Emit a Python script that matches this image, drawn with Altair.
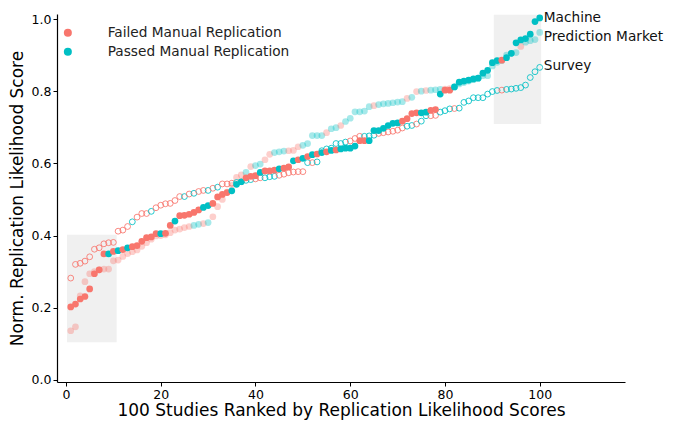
import altair as alt
import pandas as pd

# ---------------- data ----------------
ranks = list(range(1, 101))

machine = [
    0.202, 0.210, 0.224, 0.231, 0.252, 0.294, 0.305, 0.349, 0.349, 0.356,
    0.358, 0.361, 0.366, 0.369, 0.372, 0.384, 0.394, 0.396, 0.405, 0.405,
    0.406, 0.428, 0.440, 0.455, 0.456, 0.459, 0.464, 0.471, 0.478, 0.483,
    0.489, 0.507, 0.514, 0.519, 0.524, 0.542, 0.549, 0.560, 0.564, 0.566,
    0.575, 0.579, 0.579, 0.581, 0.585, 0.587, 0.590, 0.607, 0.610, 0.614,
    0.619, 0.624, 0.626, 0.630, 0.632, 0.636, 0.637, 0.640, 0.642, 0.642,
    0.648, 0.663, 0.663, 0.663, 0.691, 0.691, 0.697, 0.705, 0.711, 0.712,
    0.717, 0.724, 0.738, 0.740, 0.740, 0.742, 0.747, 0.749, 0.792, 0.803,
    0.803, 0.812, 0.825, 0.828, 0.831, 0.834, 0.836, 0.850, 0.858, 0.879,
    0.885, 0.886, 0.893, 0.905, 0.934, 0.942, 0.946, 0.958, 0.993, 1.003,
]
machine_status = ("FFFFFFFFPF PFPFFFFFFP FFPFFFFFPP FFFFPPPFFF PFFFPFFPFP "
                  "FPFPFPFPPP PFFPPPPPPP FFFFPPFFPF FPPPPPPPPP PFPPPPPPPP")

market = [
    0.136, 0.147, 0.233, 0.272, 0.294, 0.300, 0.305, 0.307, 0.307, 0.330,
    0.332, 0.342, 0.350, 0.355, 0.360, 0.370, 0.380, 0.390, 0.399, 0.400,
    0.402, 0.408, 0.415, 0.418, 0.422, 0.425, 0.428, 0.431, 0.433, 0.436,
    0.452, 0.480, 0.500, 0.520, 0.540, 0.561, 0.568, 0.575, 0.591, 0.594,
    0.598, 0.610, 0.625, 0.630, 0.632, 0.634, 0.635, 0.636, 0.646, 0.650,
    0.655, 0.677, 0.677, 0.677, 0.685, 0.696, 0.699, 0.705, 0.716, 0.725,
    0.743, 0.743, 0.745, 0.757, 0.760, 0.763, 0.765, 0.766, 0.768, 0.770,
    0.771, 0.780, 0.783, 0.799, 0.800, 0.802, 0.803, 0.804, 0.805, 0.806,
    0.807, 0.812, 0.820, 0.824, 0.828, 0.832, 0.836, 0.843, 0.843, 0.870,
    0.880, 0.885, 0.900, 0.905, 0.907, 0.924, 0.936, 0.940, 0.943, 0.963,
]
market_status = ("FFFFFFFFFF FFFFFFFFFF FFFFFFPPFP FFFFFFFPFP PFFPPPFFFP "
                 "PPPPFPPFPP PPPPFPPPPP PFPFPFPPPF FPPPPPPPPP PPPPPFPPPP")

survey = [
    0.282, 0.320, 0.323, 0.329, 0.341, 0.362, 0.366, 0.377, 0.380, 0.381,
    0.412, 0.415, 0.425, 0.438, 0.451, 0.461, 0.461, 0.467, 0.477, 0.484,
    0.488, 0.489, 0.497, 0.508, 0.508, 0.515, 0.517, 0.522, 0.525, 0.525,
    0.531, 0.534, 0.543, 0.543, 0.545, 0.547, 0.549, 0.553, 0.555, 0.557,
    0.560, 0.560, 0.563, 0.564, 0.567, 0.570, 0.574, 0.576, 0.577, 0.577,
    0.602, 0.602, 0.604, 0.635, 0.640, 0.642, 0.655, 0.655, 0.659, 0.662,
    0.669, 0.675, 0.675, 0.676, 0.678, 0.683, 0.685, 0.687, 0.689, 0.692,
    0.698, 0.703, 0.705, 0.709, 0.717, 0.732, 0.732, 0.733, 0.742, 0.746,
    0.751, 0.752, 0.753, 0.769, 0.773, 0.782, 0.782, 0.782, 0.792, 0.799,
    0.802, 0.803, 0.805, 0.806, 0.808, 0.810, 0.817, 0.838, 0.854, 0.866,
]
survey_status = ("FFFFFFFFFF FFFPFFFPFF FFFFPFPFFP FPFFFPFPPF FPPPFFFFFF "
                 "PFPPPPPPPF FFPPPFFFFF FPPFPPFFPP PFPPPPPPPP PFPPPPPPPP")

status_names = {"F": "Failed Manual Replication", "P": "Passed Manual Replication"}
status_colors = {"F": "#F8766D", "P": "#00BFC4"}
market_colors = {"F": "rgba(248,118,109,0.35)", "P": "rgba(0,191,196,0.35)"}
survey_colors = {"F": "rgba(248,118,109,0.85)", "P": "rgba(0,191,196,0.85)"}

series_names = ["Machine", "Prediction Market", "Survey"]
label_y = [1.004, 0.950, 0.870]

# highlighted regions (rank range, score range)
box_x0 = [0.2, 90.3]
box_x1 = [10.7, 100.3]
box_y0 = [0.104, 0.709]
box_y1 = [0.402, 1.012]


def frame(vals, status, palette):
    codes = status.replace(" ", "")
    assert len(vals) == 100 and len(codes) == 100
    return pd.DataFrame({
        "rank": ranks,
        "score": vals,
        "status": [status_names[c] for c in codes],
        "col": [palette[c] for c in codes],
    })


df_machine = frame(machine, machine_status, status_colors)
df_market = frame(market, market_status, market_colors)
df_survey = frame(survey, survey_status, survey_colors)
df_boxes = pd.DataFrame({"x0": box_x0, "x1": box_x1, "y0": box_y0, "y1": box_y1})
df_labels = pd.DataFrame({"name": series_names, "rank": [100] * 3, "score": label_y})

# ---------------- chart ----------------
FONT = "DejaVu Sans"
xscale = alt.Scale(domain=[-1.9, 118], nice=False, zero=False)
yscale = alt.Scale(domain=[-0.006, 1.014], nice=False, zero=False)
cscale = alt.Scale(domain=list(status_names.values()),
                   range=[status_colors["F"], status_colors["P"]])

xenc = alt.X("rank:Q", scale=xscale,
             axis=alt.Axis(values=[0, 20, 40, 60, 80, 100],
                           title="100 Studies Ranked by Replication Likelihood Scores"))
yenc = alt.Y("score:Q", scale=yscale,
             axis=alt.Axis(values=[0, 0.2, 0.4, 0.6, 0.8, 1.0], format=".1f",
                           title="Norm. Replication Likelihood Score"))

boxes = alt.Chart(df_boxes).mark_rect(color="#f0f0f0").encode(
    x=alt.X("x0:Q", scale=xscale), x2="x1:Q",
    y=alt.Y("y0:Q", scale=yscale), y2="y1:Q",
)

market_layer = alt.Chart(df_market).mark_circle(size=45, opacity=1).encode(
    x=xenc, y=yenc,
    color=alt.Color("col:N", scale=None),
)

survey_layer = alt.Chart(df_survey).mark_point(
    shape="circle", filled=False, size=34, strokeWidth=1, opacity=1
).encode(
    x=xenc, y=yenc,
    color=alt.Color("col:N", scale=None),
)

machine_layer = alt.Chart(df_machine).mark_circle(size=45, opacity=1).encode(
    x=xenc, y=yenc,
    color=alt.Color("status:N", scale=cscale,
                    legend=alt.Legend(title=None, orient="none", legendX=4, legendY=12,
                                      symbolType="circle", symbolSize=64,
                                      symbolOpacity=1,
                                      labelFontSize=13.7, labelFont=FONT,
                                      labelColor="#222222", labelOffset=33,
                                      labelLimit=400,
                                      rowPadding=4, padding=0, symbolStrokeWidth=0)),
)

labels = alt.Chart(df_labels).mark_text(
    align="left", baseline="middle", dx=4, fontSize=13.7, font=FONT, color="#111111"
).encode(
    x=alt.X("rank:Q", scale=xscale), y=alt.Y("score:Q", scale=yscale), text="name:N"
)

chart = alt.layer(boxes, market_layer, survey_layer, machine_layer, labels).properties(
    width=568, height=368,
    autosize=alt.AutoSizeParams(type="none"),
    padding={"left": 49, "top": 6, "right": 42, "bottom": 39},
).configure_view(stroke=None).configure_axis(
    grid=False, domainColor="black", tickColor="black", labelColor="black",
    titleColor="black", labelFont=FONT, titleFont=FONT, labelFontSize=12.5,
    titleFontSize=17, titleFontWeight="normal", tickSize=4, labelPadding=2,
    domainWidth=1.2,
).configure_axisX(titlePadding=2).configure_axisY(titlePadding=5)

chart.save("out.html", embed_options={"renderer": "svg", "actions": False})
